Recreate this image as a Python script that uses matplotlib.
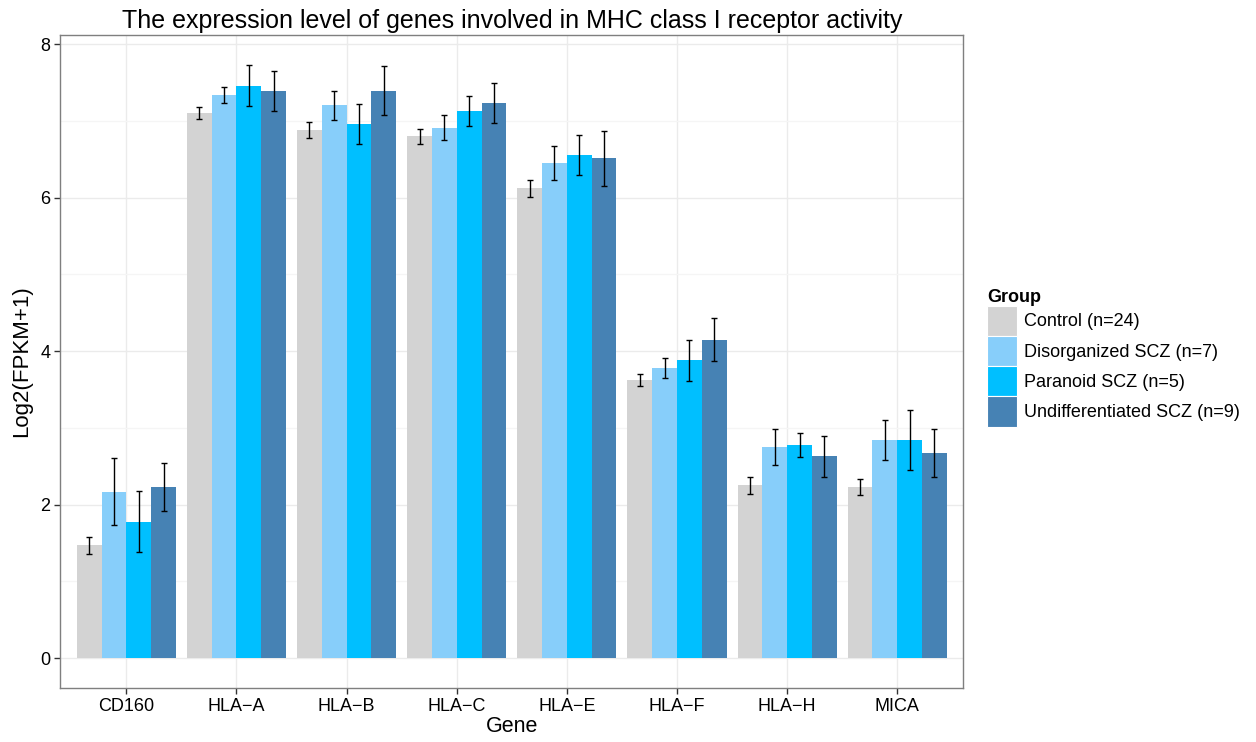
import numpy as np
import matplotlib
matplotlib.use("Agg")
import matplotlib.pyplot as plt
from matplotlib.patches import Patch

plt.rcParams['font.family'] = ['Liberation Sans', 'DejaVu Sans']

genes = ['CD160', 'HLA\u2212A', 'HLA\u2212B', 'HLA\u2212C', 'HLA\u2212E', 'HLA\u2212F', 'HLA\u2212H', 'MICA']
groups = ['Control (n=24)', 'Disorganized SCZ (n=7)', 'Paranoid SCZ (n=5)', 'Undifferentiated SCZ (n=9)']
colors = ['#D3D3D3', '#87CEFA', '#00BFFF', '#4682B4']

control = [1.47, 7.10, 6.88, 6.80, 6.12, 3.62, 2.25, 2.23]
disorganized = [2.17, 7.34, 7.20, 6.91, 6.45, 3.78, 2.75, 2.84]
paranoid = [1.78, 7.46, 6.96, 7.13, 6.55, 3.88, 2.78, 2.84]
undiff = [2.23, 7.39, 7.39, 7.23, 6.51, 4.15, 2.63, 2.67]

control_se = [0.11, 0.08, 0.10, 0.10, 0.11, 0.08, 0.115, 0.11]
disorganized_se = [0.44, 0.105, 0.19, 0.16, 0.22, 0.125, 0.23, 0.26]
paranoid_se = [0.40, 0.265, 0.26, 0.195, 0.26, 0.265, 0.155, 0.39]
undiff_se = [0.315, 0.26, 0.32, 0.26, 0.355, 0.28, 0.265, 0.31]

means = [control, disorganized, paranoid, undiff]
errs = [control_se, disorganized_se, paranoid_se, undiff_se]

fig = plt.figure(figsize=(12.56, 7.42), dpi=100)
ax = fig.add_axes([0.048, 0.073, 0.719, 0.880])

x = np.arange(1, len(genes) + 1)
w = 0.9 / 4
for i in range(4):
    pos = x - 0.45 + w * (i + 0.5)
    ax.bar(pos, means[i], width=w, color=colors[i], zorder=2)
    ax.errorbar(pos, means[i], yerr=errs[i], fmt='none', ecolor='black',
                elinewidth=1.0, capsize=2.5, capthick=1.0, zorder=3)

ax.set_xlim(0.4, 8.6)
ax.set_ylim(-0.387, 8.12)
ax.set_xticks(x)
ax.set_xticklabels(genes)
ax.set_yticks([0, 2, 4, 6, 8])
ax.set_yticks([1, 3, 5, 7], minor=True)
ax.tick_params(axis='both', which='major', length=4, width=1.0, color='#333333',
               labelsize=13, labelcolor='black', pad=3)
ax.tick_params(axis='y', which='minor', length=0)
ax.grid(True, which='major', color='#EBEBEB', linewidth=1.0, zorder=0)
ax.grid(True, which='minor', axis='y', color='#F5F5F5', linewidth=1.0, zorder=0)
ax.set_axisbelow(True)
for s in ax.spines.values():
    s.set_color('#7F7F7F')
    s.set_linewidth(1.0)

ax.set_xlabel('Gene', fontsize=15.5, labelpad=1)
ax.set_ylabel('Log2(FPKM+1)', fontsize=16, labelpad=6)
ax.set_title('The expression level of genes involved in MHC class I receptor activity', fontsize=18, pad=5)

handles = [Patch(facecolor=c, edgecolor='white', linewidth=0.8) for c in colors]
leg = fig.legend(handles, groups, title='Group', loc='upper left', bbox_to_anchor=(0.786, 0.611),
                 frameon=False, fontsize=13, title_fontsize=13, handlelength=1.66, handleheight=2.2,
                 labelspacing=0.0, handletextpad=0.4, borderaxespad=0, borderpad=0)
leg.get_title().set_fontweight('bold')
leg._legend_box.align = 'left'

fig.savefig('out.png', dpi=100)
